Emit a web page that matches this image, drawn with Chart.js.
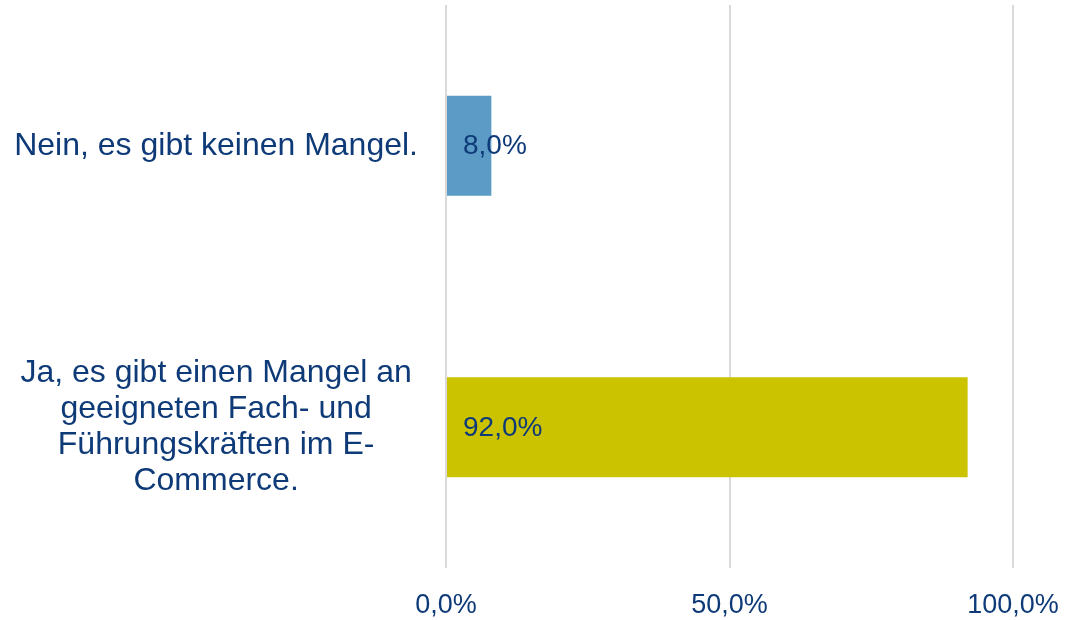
<!DOCTYPE html>
<html lang="de">
<head>
<meta charset="utf-8">
<title>Mangel an Fach- und Führungskräften</title>
<style>
  html, body { margin: 0; padding: 0; background: #fff; }
  #wrap { position: relative; width: 1067px; height: 620px; }
</style>
</head>
<body>
<div id="wrap"><canvas id="myChart"></canvas></div>
<script src="https://cdn.jsdelivr.net/npm/chart.js"></script>
<script>
// Kategorien und Werte (in %)
var categories = [
  "Nein, es gibt keinen Mangel.",
  ["Ja, es gibt einen Mangel an", "geeigneten Fach- und", "Führungskräften im E-", "Commerce."]
];
var values = [8.0, 92.0];
var barColors = ["#5B9BC5", "#CCC300"];
var xTicks = [0, 50, 100];

var textColor = "#0E3A78";
var fontFamily = "Liberation Sans, Arial, Helvetica, sans-serif";

function pct(v) {
  return Number(v).toFixed(1).replace(".", ",") + "%";
}

// Wertbeschriftungen am Balkenanfang
var valueLabels = {
  id: "valueLabels",
  afterDatasetsDraw: function (chart) {
    var ctx = chart.ctx;
    var meta = chart.getDatasetMeta(0);
    ctx.save();
    ctx.font = "28px " + fontFamily;
    ctx.fillStyle = textColor;
    ctx.textAlign = "left";
    ctx.textBaseline = "middle";
    meta.data.forEach(function (bar, i) {
      ctx.fillText(pct(values[i]), bar.base + 16, bar.y + 1);
    });
    ctx.restore();
  }
};

function draw() {
  new Chart("myChart", {
    type: "bar",
    data: {
      labels: categories,
      datasets: [{
        data: values,
        backgroundColor: barColors,
        borderWidth: 0,
        barPercentage: 0.355,
        categoryPercentage: 1.0
      }]
    },
    options: {
      indexAxis: "y",
      responsive: true,
      maintainAspectRatio: false,
      animation: false,
      layout: { padding: { top: 5, right: 54, left: 0, bottom: 0 } },
      plugins: {
        legend: { display: false },
        tooltip: { enabled: false }
      },
      scales: {
        x: {
          min: 0,
          max: 100,
          afterBuildTicks: function (scale) {
            scale.ticks = xTicks.map(function (v) { return { value: v }; });
          },
          afterFit: function (scale) {
            scale.height = 52;
            scale.paddingLeft = 0;
            scale.paddingRight = 0;
          },
          grid: { color: "#D9D9D9", lineWidth: 2, drawTicks: false },
          border: { display: false },
          ticks: {
            color: textColor,
            font: { family: fontFamily, size: 27 },
            padding: 21,
            callback: function (v) { return pct(v); }
          }
        },
        y: {
          grid: { display: false },
          border: { display: false },
          afterFit: function (scale) {
            scale.width = 446;
            scale.paddingTop = 0;
            scale.paddingBottom = 0;
          },
          ticks: {
            color: textColor,
            crossAlign: "center",
            padding: 20,
            font: { family: fontFamily, size: 32, lineHeight: 1.13 }
          }
        }
      }
    },
    plugins: [valueLabels]
  });
}

if (document.fonts && document.fonts.load) {
  Promise.all([
    document.fonts.load('32px "Liberation Sans"'),
    document.fonts.load('28px "Liberation Sans"')
  ]).then(draw, draw);
} else {
  draw();
}
</script>
</body>
</html>
